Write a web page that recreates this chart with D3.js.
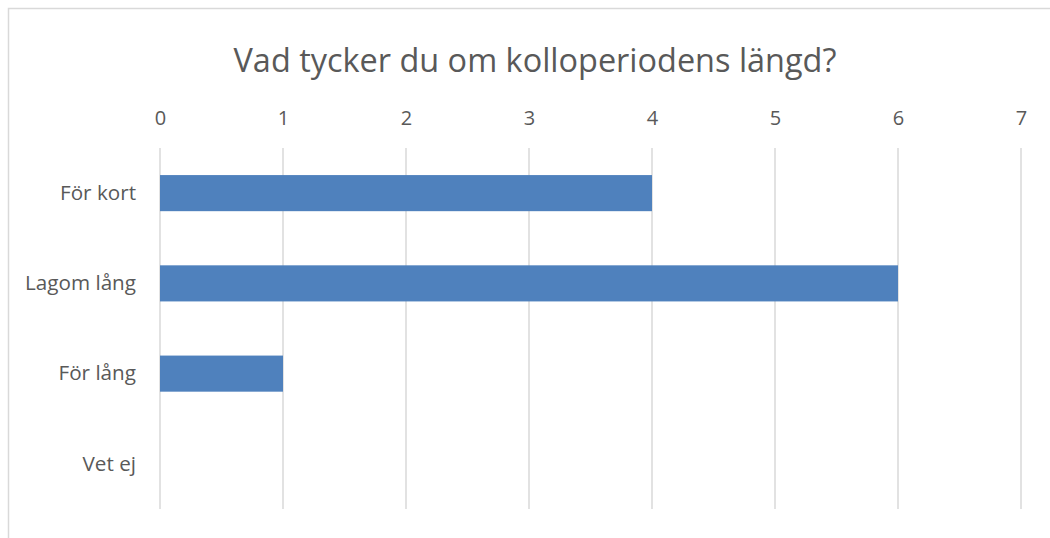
<!DOCTYPE html>
<html><head><meta charset="utf-8">
<script src="https://cdn.jsdelivr.net/npm/d3@7"></script>
<style>body{margin:0;background:#fff;} text{font-family:"Open Sans",sans-serif;fill:#595959;}</style>
</head><body>
<svg id="c" width="1050" height="538"></svg>
<script>
const title = "Vad tycker du om kolloperiodens längd?";
const categories = ["För kort", "Lagom lång", "För lång", "Vet ej"];
const values = [4, 6, 1, 0];
const ticks = [0, 1, 2, 3, 4, 5, 6, 7];

const svg = d3.select("#c");
svg.append("rect").attr("x", 8.5).attr("y", 8.5).attr("width", 1060).attr("height", 560)
  .attr("fill", "#fff").attr("stroke", "#d9d9d9").attr("stroke-width", 1.5);

const x = d3.scaleLinear().domain([0, 7]).range([160, 1021]);
const y = d3.scaleBand().domain(categories).range([148, 509]).paddingInner(0.6).paddingOuter(0.3);

// gridlines
svg.append("g").selectAll("line").data(ticks).join("line")
  .attr("x1", d => x(d)).attr("x2", d => x(d)).attr("y1", 148).attr("y2", 509)
  .attr("stroke", "#d9d9d9").attr("stroke-width", 1.5);

// top axis labels
const ax = svg.append("g").attr("transform", "translate(0,125)")
  .call(d3.axisTop(x).tickValues(ticks).tickSize(0).tickPadding(0).tickFormat(d3.format("d")));
ax.select(".domain").remove();
ax.attr("font-size", 20);
ax.selectAll("text").attr("font-size", 20).style("font-size", "20px").style("font-family", "'Open Sans',sans-serif").attr("fill", "#595959");

// left axis labels
const ay = svg.append("g").attr("transform", "translate(136,0)")
  .call(d3.axisLeft(y).tickSize(0).tickPadding(0));
ay.select(".domain").remove();
ay.selectAll("text").attr("font-size", 17).style("font-family", "'Open Sans',sans-serif").attr("fill", "#595959");
let maxW = 0;
ay.selectAll("text").each(function(){ maxW = Math.max(maxW, this.getComputedTextLength()); });
ay.selectAll("text").attr("font-size", 17 * 111 / maxW);

// bars
svg.append("g").selectAll("rect").data(values).join("rect")
  .attr("x", x(0)).attr("y", (d, i) => y(categories[i]))
  .attr("width", d => x(d) - x(0)).attr("height", y.bandwidth())
  .attr("fill", "#4f81bd");

// title
const t = svg.append("text").attr("x", 535).attr("y", 72).attr("text-anchor", "middle")
  .attr("font-size", 31).text(title);
const w = t.node().getComputedTextLength();
t.attr("font-size", 31 * 603 / w);
</script>
</body></html>
